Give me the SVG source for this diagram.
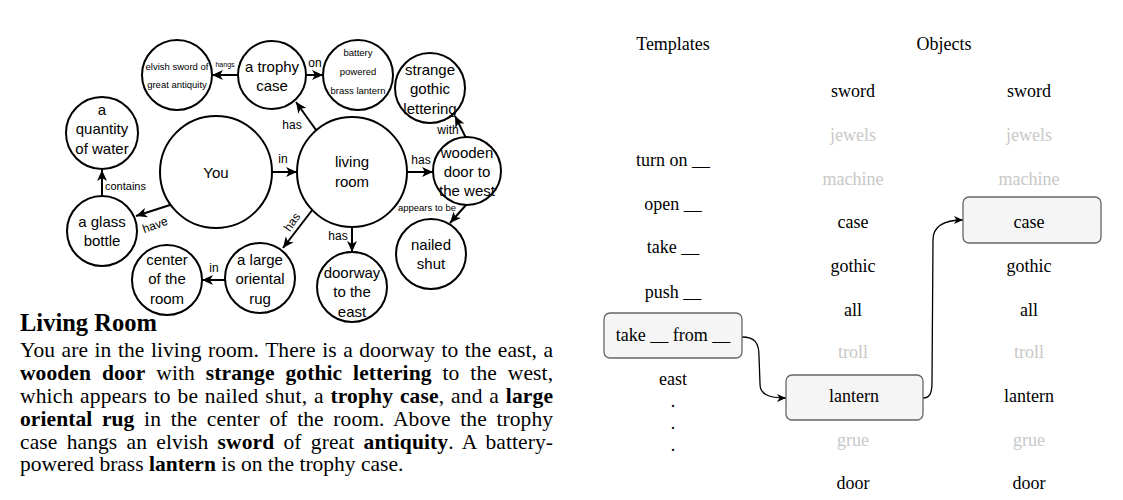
<svg xmlns="http://www.w3.org/2000/svg" width="1123" height="500" viewBox="0 0 1123 500">
<style>
.n{fill:#fff;stroke:#000;stroke-width:2}
.t{font-family:"Liberation Sans",Arial,sans-serif;font-size:15px;text-anchor:middle;fill:#000}
.s{font-family:"Liberation Sans",Arial,sans-serif;font-size:9.5px;text-anchor:middle;fill:#000}
.el{font-family:"Liberation Sans",Arial,sans-serif;font-size:12px;text-anchor:middle;fill:#000}
.e{fill:none;stroke:#000;stroke-width:2}
.c{fill:none;stroke:#000;stroke-width:1.3}
.p{font-family:"Liberation Serif","Times New Roman",serif;font-size:21.5px;fill:#000}
.b{font-weight:bold}
.r{font-family:"Liberation Serif","Times New Roman",serif;font-size:18px;text-anchor:middle;fill:#000}
.g{fill:#c8c8c8}
.box{fill:#f5f5f5;stroke:#666;stroke-width:1.3}
</style>
<defs>
<marker id="a" markerUnits="userSpaceOnUse" markerWidth="12" markerHeight="10" refX="11" refY="5" orient="auto">
<path d="M0,0 L11,5 L0,10 L3,5 Z" fill="#000"/>
</marker>
<marker id="a2" markerUnits="userSpaceOnUse" markerWidth="10" markerHeight="8" refX="9" refY="4" orient="auto">
<path d="M0,0 L9,4 L0,8 L2.5,4 Z" fill="#000"/>
</marker>
</defs>

<g id="connectors">
<path class="e" d="M272,172 L297,172" marker-end="url(#a)"/>
<path class="e" d="M316,130 L296,102" marker-end="url(#a)"/>
<path class="e" d="M238,75 L212,75" marker-end="url(#a)"/>
<path class="e" d="M306,75 L323,75" marker-end="url(#a)"/>
<path class="e" d="M407,172 L433,172" marker-end="url(#a)"/>
<path class="e" d="M466,138 L455,116" marker-end="url(#a)"/>
<path class="e" d="M466,205 L450,223" marker-end="url(#a)"/>
<path class="e" d="M352,227 L352,252" marker-end="url(#a)"/>
<path class="e" d="M313,209 L283,248" marker-end="url(#a)"/>
<path class="e" d="M225,280 L202,280" marker-end="url(#a)"/>
<path class="e" d="M170,205 L136,216" marker-end="url(#a)"/>
<path class="e" d="M102,196 L102,170" marker-end="url(#a)"/>
<text class="el" x="283" y="163">in</text>
<text class="el" x="292" y="129">has</text>
<text class="s" x="225" y="67" style="font-size:7px">hangs</text>
<text class="el" x="315" y="67">on</text>
<text class="el" x="421" y="164">has</text>
<text class="el" x="448" y="134">with</text>
<text class="s" x="427" y="211">appears to be</text>
<text class="el" x="338" y="240">has</text>
<text class="el" x="292" y="226" transform="rotate(-55 292 222)">has</text>
<text class="el" x="214" y="272">in</text>
<text class="el" x="155" y="229" transform="rotate(-20 155 225)">have</text>
<text class="el" x="105" y="190" style="text-anchor:start;font-size:11px">contains</text>
<path class="c" d="M742,337 C755,337 759,343 759,356 L760,384 C760,394 768,398 786,398" marker-end="url(#a2)"/>
<path class="c" d="M923,398 C930,398 932,393 932,382 L933,240 C933,226 944,220 963,220" marker-end="url(#a2)"/>
</g>

<g id="you"><circle class="n" cx="216" cy="172" r="56"/><text class="t" x="216" y="178">You</text></g>
<g id="living-room"><circle class="n" cx="352" cy="172" r="55"/><text class="t" x="352" y="167">living</text><text class="t" x="352" y="187">room</text></g>
<g id="trophy-case"><circle class="n" cx="272" cy="75" r="34"/><text class="t" x="272" y="72">a trophy</text><text class="t" x="272" y="91">case</text></g>
<g id="elvish-sword"><circle class="n" cx="177" cy="75" r="35"/><text class="s" x="177" y="70">elvish sword of</text><text class="s" x="177" y="88">great antiquity</text></g>
<g id="brass-lantern"><circle class="n" cx="358" cy="75" r="35"/><text class="s" x="358" y="56">battery</text><text class="s" x="358" y="75">powered</text><text class="s" x="358" y="94">brass lantern</text></g>
<g id="gothic-lettering"><circle class="n" cx="430" cy="88" r="35"/><text class="t" x="430" y="75">strange</text><text class="t" x="430" y="94">gothic</text><text class="t" x="430" y="114">lettering</text></g>
<g id="wooden-door"><circle class="n" cx="467" cy="171" r="34"/><text class="t" x="467" y="158">wooden</text><text class="t" x="467" y="177">door to</text><text class="t" x="467" y="196">the west</text></g>
<g id="nailed-shut"><circle class="n" cx="431" cy="254" r="35"/><text class="t" x="431" y="250">nailed</text><text class="t" x="431" y="269">shut</text></g>
<g id="doorway"><circle class="n" cx="352" cy="287" r="35"/><text class="t" x="352" y="278">doorway</text><text class="t" x="352" y="297">to the</text><text class="t" x="352" y="317">east</text></g>
<g id="oriental-rug"><circle class="n" cx="260" cy="278" r="35"/><text class="t" x="260" y="265">a large</text><text class="t" x="260" y="284">oriental</text><text class="t" x="260" y="304">rug</text></g>
<g id="center-room"><circle class="n" cx="167" cy="280" r="35"/><text class="t" x="167" y="265">center</text><text class="t" x="167" y="284">of the</text><text class="t" x="167" y="304">room</text></g>
<g id="glass-bottle"><circle class="n" cx="102" cy="231" r="35"/><text class="t" x="102" y="227">a glass</text><text class="t" x="102" y="246">bottle</text></g>
<g id="water"><circle class="n" cx="102" cy="133" r="36"/><text class="t" x="102" y="115">a</text><text class="t" x="102" y="134">quantity</text><text class="t" x="102" y="154">of water</text></g>

<g id="description">
<text class="p b" x="20" y="331" style="font-size:24.5px">Living Room</text>
<text class="p" x="20" y="357" word-spacing="1.1" textLength="533" lengthAdjust="spacing">You are in the living room. There is a doorway to the east, a</text>
<text class="p" x="20" y="380" word-spacing="5.5" textLength="533" lengthAdjust="spacing"><tspan class="b">wooden door</tspan> with <tspan class="b">strange gothic lettering</tspan> to the west,</text>
<text class="p" x="20" y="403" word-spacing="1.2" textLength="533" lengthAdjust="spacing">which appears to be nailed shut, a <tspan class="b">trophy case</tspan>, and a <tspan class="b">large</tspan></text>
<text class="p" x="20" y="426" word-spacing="4.2" textLength="533" lengthAdjust="spacing"><tspan class="b">oriental rug</tspan> in the center of the room. Above the trophy</text>
<text class="p" x="20" y="449" word-spacing="3.8" textLength="533" lengthAdjust="spacing">case hangs an elvish <tspan class="b">sword</tspan> of great <tspan class="b">antiquity</tspan>. A battery-</text>
<text class="p" x="20" y="471">powered brass <tspan class="b">lantern</tspan> is on the trophy case.</text>
</g>

<g id="headers">
<text class="r" x="673" y="50">Templates</text>
<text class="r" x="944" y="50">Objects</text>
</g>
<g id="templates">
<text class="r" x="673" y="166">turn on __</text>
<text class="r" x="673" y="210">open __</text>
<text class="r" x="673" y="253">take __</text>
<text class="r" x="673" y="298">push __</text>
<g id="take-from"><rect class="box" x="604" y="313" width="138" height="45" rx="6"/><text class="r" x="673" y="341">take __ from __</text></g>
<text class="r" x="673" y="385">east</text>
<text class="r" x="673" y="407">.</text>
<text class="r" x="673" y="429">.</text>
<text class="r" x="673" y="451">.</text>
</g>
<g id="objects1">
<text class="r" x="853" y="97">sword</text>
<text class="r g" x="853" y="141">jewels</text>
<text class="r g" x="853" y="185">machine</text>
<text class="r" x="853" y="228">case</text>
<text class="r" x="853" y="272">gothic</text>
<text class="r" x="853" y="316">all</text>
<text class="r g" x="853" y="358">troll</text>
<g id="lantern-sel"><rect class="box" x="786" y="375" width="137" height="45" rx="6"/><text class="r" x="854" y="402">lantern</text></g>
<text class="r g" x="853" y="446">grue</text>
<text class="r" x="853" y="489">door</text>
</g>
<g id="objects2">
<text class="r" x="1029" y="97">sword</text>
<text class="r g" x="1029" y="141">jewels</text>
<text class="r g" x="1029" y="185">machine</text>
<g id="case-sel"><rect class="box" x="963" y="197" width="138" height="46" rx="6"/><text class="r" x="1029" y="228">case</text></g>
<text class="r" x="1029" y="272">gothic</text>
<text class="r" x="1029" y="316">all</text>
<text class="r g" x="1029" y="358">troll</text>
<text class="r" x="1029" y="402">lantern</text>
<text class="r g" x="1029" y="446">grue</text>
<text class="r" x="1029" y="489">door</text>
</g>
</svg>
